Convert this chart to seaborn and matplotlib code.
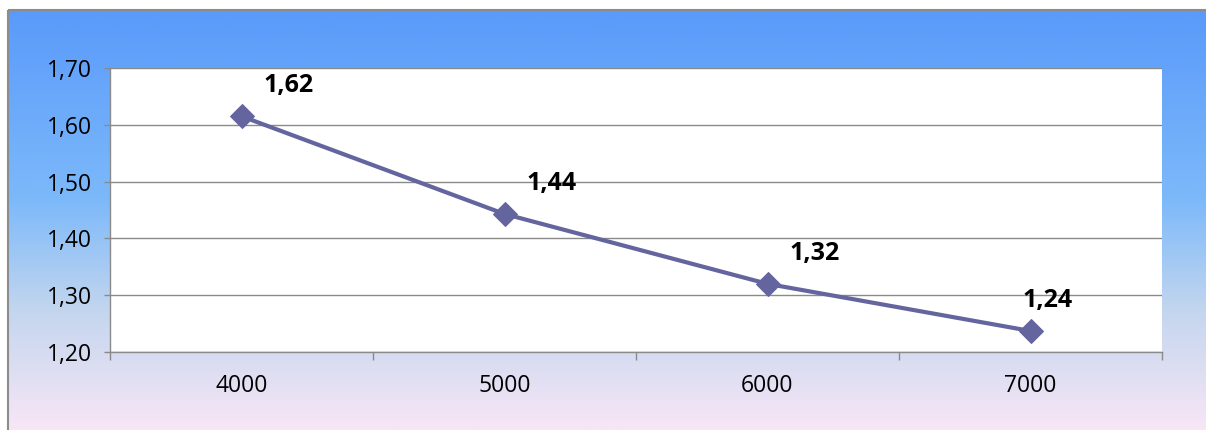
import matplotlib
matplotlib.use("Agg")
import matplotlib.pyplot as plt
import matplotlib.colors as mcolors
from matplotlib.patches import Rectangle
from matplotlib.ticker import FixedLocator, FuncFormatter
import numpy as np
import pandas as pd
import seaborn as sns

# ── Data ──────────────────────────────────────────────────────────────────────
categories = ["4000", "5000", "6000", "7000"]
values = [1.615, 1.443, 1.320, 1.237]
labels = ["1,62", "1,44", "1,32", "1,24"]
y_ticks = [1.20, 1.30, 1.40, 1.50, 1.60, 1.70]

df = pd.DataFrame({"cat": categories, "val": values})

sns.set_theme(style="white")
plt.rcParams["font.family"] = ["Open Sans", "DejaVu Sans"]

fig = plt.figure(figsize=(12.06, 4.30), dpi=100)
W, H = 1206, 430

# ── Gradient background frame ────────────────────────────────────────────────
bg = fig.add_axes([0, 0, 1, 1], zorder=0)
bg.set_xlim(0, W)
bg.set_ylim(H, 0)
bg.axis("off")
grad = mcolors.LinearSegmentedColormap.from_list(
    "frame",
    [(0.0, "#5a9afa"), (0.45, "#7cb9fa"), (0.72, "#c4d6ee"), (1.0, "#f8e6f6")],
)
g = np.linspace(0, 1, 256).reshape(-1, 1)
bg.imshow(g, cmap=grad, extent=[8, W, H, 10], aspect="auto")
bg.add_patch(Rectangle((8, 10), W, H, fill=False, edgecolor="#8c8c8c", linewidth=1.5))

# ── Plot area ────────────────────────────────────────────────────────────────
ax = fig.add_axes([110 / W, 1 - 352 / H, (1162 - 110) / W, (352 - 68) / H], zorder=1)
ax.set_facecolor("white")

sns.lineplot(data=df, x="cat", y="val", ax=ax, color="#64649f", linewidth=3,
             marker="D", markersize=12, markeredgecolor="#64649f", zorder=3)

for i, (v, lab) in enumerate(zip(values, labels)):
    dx = 12 if i == len(values) - 1 else 34
    ax.annotate(lab, (i, v), xytext=(dx, 22), textcoords="offset points",
                ha="center", va="center", fontsize=18, fontweight="bold",
                color="black", zorder=4)

ax.set_xlim(-0.5, 3.5)
ax.set_ylim(1.20, 1.70)
ax.yaxis.set_major_locator(FixedLocator(y_ticks))
ax.yaxis.set_major_formatter(FuncFormatter(lambda v, p: f"{v:.2f}".replace(".", ",")))
ax.grid(axis="y", color="#8a8a8a", linewidth=1)
ax.set_axisbelow(True)

ax.set_xticks(range(len(categories)))
ax.set_xticklabels(categories)
ax.set_xticks(np.arange(-0.5, 3.6, 1), minor=True)
ax.tick_params(axis="x", which="major", length=0, pad=16, labelsize=16.5,
               labelcolor="black")
ax.tick_params(axis="x", which="minor", length=6, width=1, color="#8a8a8a",
               direction="out", bottom=True)
ax.tick_params(axis="y", length=4, width=1, color="#8a8a8a", direction="out",
               left=True, pad=9, labelsize=16.5, labelcolor="black")
ax.set_xlabel("")
ax.set_ylabel("")

for side in ["top", "right"]:
    ax.spines[side].set_visible(False)
for side in ["left", "bottom"]:
    ax.spines[side].set_color("#8a8a8a")
    ax.spines[side].set_linewidth(1)

fig.savefig("out.png", dpi=100)
